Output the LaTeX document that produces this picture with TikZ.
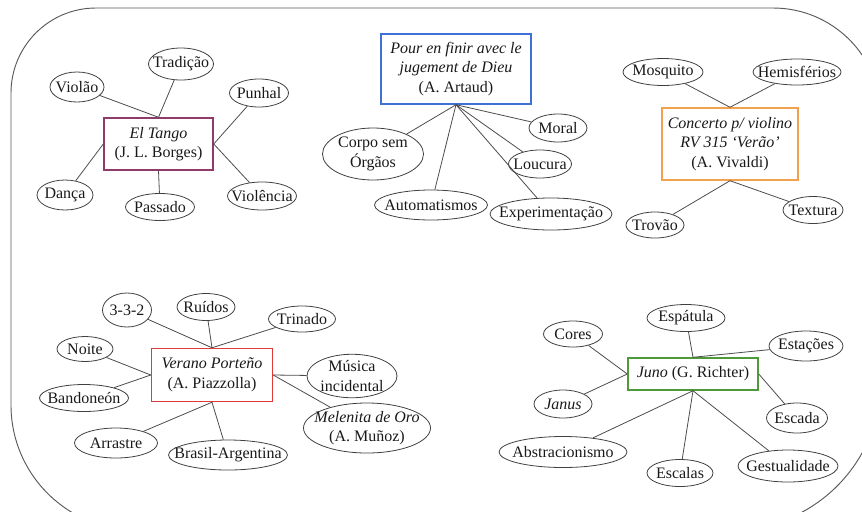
\documentclass[tikz,border=0pt]{standalone}
\usepackage{fontspec}
\setmainfont{Liberation Serif}
\usetikzlibrary{shapes.geometric}
\definecolor{cTango}{HTML}{8E3B6B}
\definecolor{cArtaud}{HTML}{3F70D5}
\definecolor{cVivaldi}{HTML}{F2A24E}
\definecolor{cPiazz}{HTML}{E0393A}
\definecolor{cJuno}{HTML}{4E9A3A}
\begin{document}
\begin{tikzpicture}[x=0.75pt,y=-0.75pt,
  every node/.style={font=\fontsize{12}{14.6}\selectfont, text=black!90},
  el/.style 2 args={ellipse, draw=black!75, line width=0.6pt, align=center,
    inner xsep=-12pt, inner ysep=0pt, minimum width=#1*0.75pt, minimum height=#2*0.75pt},
  hub/.style n args={3}{draw=#1, line width=1.1pt, align=center, inner sep=1pt,
    minimum width=#2*0.75pt, minimum height=#3*0.75pt},
  link/.style={draw=black!70, line width=0.6pt},
  frame/.style={draw=black!65, line width=0.7pt}]
\useasboundingbox (0,0) rectangle (862,511);
\begin{scope}
\clip (0,0) rectangle (862,511);
\draw[frame] (11,93) arc(180:270:85) -- (773,8) arc(270:360:108) -- (881,380)
  arc(0:90:150) -- (136,530) arc(90:180:125) -- cycle;
\end{scope}

% El Tango
\node[hub={cTango}{109}{52}] (tango) at (158.5,144) {\textit{El Tango}\\(J. L. Borges)};
\node[el={54}{30}] (violao) at (77,87) {Violão};
\node[el={65}{32}] (tradicao) at (181,64) {Tradição};
\node[el={59}{28}] (punhal) at (259,93) {Punhal};
\node[el={56}{30}] (danca) at (65,195) {Dança};
\node[el={69}{27}] (passado) at (160,207) {Passado};
\node[el={69}{28}] (violencia) at (262,196) {Violência};
\draw[link] (tango.north) -- (violao);
\draw[link] (tango.north) -- (tradicao);
\draw[link] (tango.east) -- (punhal);
\draw[link] (tango.east) -- (violencia);
\draw[link] (tango.west) -- (danca);
\draw[link] (tango.south) -- (passado);

% Artaud
\node[hub={cArtaud}{150}{70}] (artaud) at (456,69) {\textit{Pour en finir avec le}\\\textit{jugement de Dieu}\\(A. Artaud)};
\node[el={58}{28}] (moral) at (558,128) {Moral};
\node[el={101}{52}] (corpo) at (373,154) {Corpo sem\\Órgãos};
\node[el={63}{28}] (loucura) at (540,164) {Loucura};
\node[el={113}{30}] (autom) at (431,205) {Automatismos};
\node[el={122}{32}] (exper) at (551,214) {Experimentação};
\draw[link] (artaud.south) -- (corpo);
\draw[link] (artaud.south) -- (autom);
\draw[link] (artaud.south) -- (exper);
\draw[link] (artaud.south) -- (loucura);
\draw[link] (artaud.south) -- (moral);

% Vivaldi
\node[hub={cVivaldi}{136}{72}] (vivaldi) at (730,144) {\textit{Concerto p/ violino}\\\textit{RV 315 `Verão'}\\(A. Vivaldi)};
\node[el={80}{27}] (mosquito) at (663,72) {Mosquito};
\node[el={88}{26}] (hemis) at (797,72) {Hemisférios};
\node[el={58}{26}] (trovao) at (655,225) {Trovão};
\node[el={60}{27}] (textura) at (813,210) {Textura};
\draw[link] (vivaldi.north) -- (mosquito);
\draw[link] (vivaldi.north) -- (hemis);
\draw[link] (vivaldi.south) -- (trovao);
\draw[link] (vivaldi.south) -- (textura);

% Piazzolla
\node[hub={cPiazz}{121}{53}] (piazz) at (212,375) {\textit{Verano Porteño}\\(A. Piazzolla)};
\node[el={49}{34}] (t332) at (127,310) {3-3-2};
\node[el={58}{27}] (ruidos) at (206,307) {Ruídos};
\node[el={67}{26}] (trinado) at (302,319) {Trinado};
\node[el={56}{25}] (noite) at (85,349) {Noite};
\node[el={90}{42}] (musica) at (352,376) {Música\\incidental};
\node[el={89}{27}] (bandoneon) at (84,398) {Bandoneón};
\node[el={127}{50}] (melenita) at (367,428) {\textit{Melenita de Oro}\\(A. Muñoz)};
\node[el={83}{30}] (arrastre) at (116,443) {Arrastre};
\node[el={119}{30}] (brasil) at (228,455) {Brasil-Argentina};
\draw[link] (piazz.north) -- (t332);
\draw[link] (piazz.north) -- (ruidos);
\draw[link] (piazz.north) -- (trinado);
\draw[link] (piazz.west) -- (noite);
\draw[link] (piazz.west) -- (bandoneon);
\draw[link] (piazz.east) -- (musica);
\draw[link] (piazz.east) -- (melenita);
\draw[link] (piazz.south) -- (arrastre);
\draw[link] (piazz.south) -- (brasil);

% Juno
\node[hub={cJuno}{130}{32}] (juno) at (693,374) {\textit{Juno} (G. Richter)};
\node[el={78}{27}] (espatula) at (686,318) {Espátula};
\node[el={59}{26}] (cores) at (573,334) {Cores};
\node[el={74}{30}] (estacoes) at (806,346) {Estações};
\node[el={58}{28}] (janus) at (563,404) {\textit{Janus}};
\node[el={61}{30}] (escada) at (797,418) {Escada};
\node[el={128}{31}] (abstrac) at (563,452) {Abstracionismo};
\node[el={66}{27}] (escalas) at (680,473) {Escalas};
\node[el={100}{32}] (gestual) at (788,466) {Gestualidade};
\draw[link] (juno.west) -- (cores);
\draw[link] (juno.west) -- (janus);
\draw[link] (juno.north) -- (espatula);
\draw[link] (juno.north) -- (estacoes);
\draw[link] (juno.east) -- (escada);
\draw[link] (juno.south) -- (abstrac);
\draw[link] (juno.south) -- (escalas);
\draw[link] (juno.south) -- (gestual);
\end{tikzpicture}
\end{document}
